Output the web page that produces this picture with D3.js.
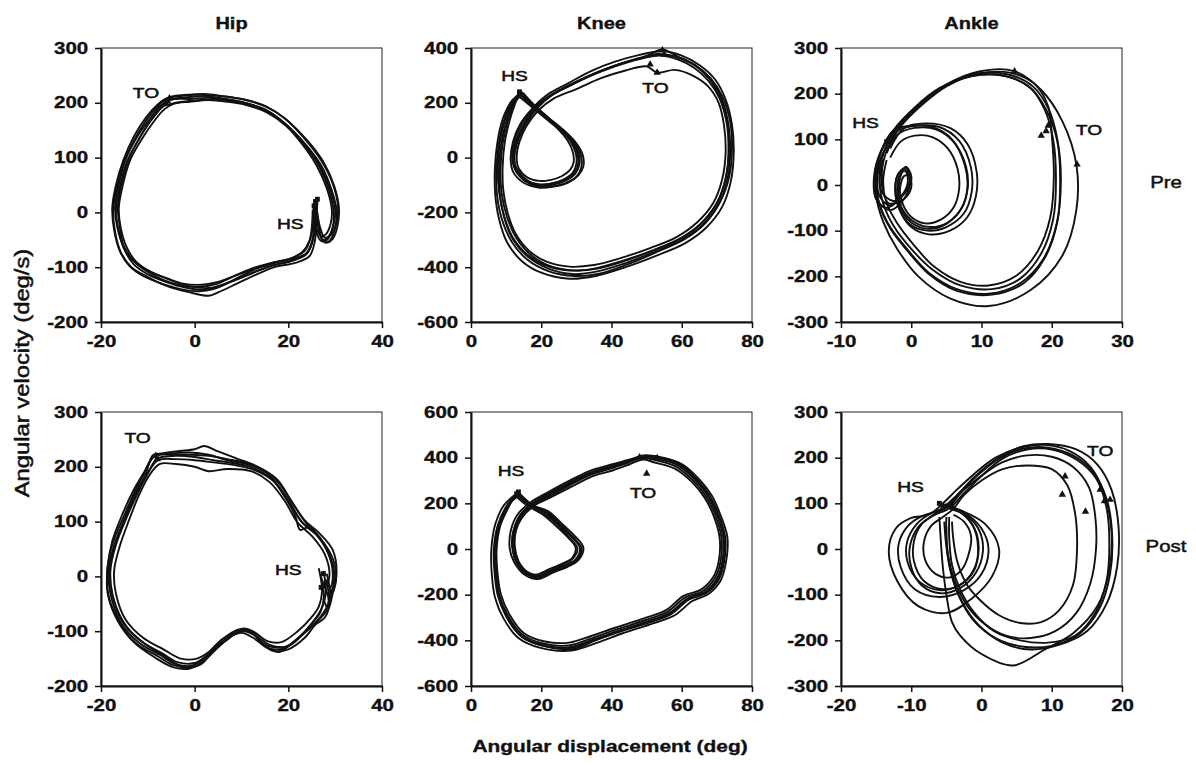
<!DOCTYPE html>
<html>
<head>
<meta charset="utf-8">
<script src="https://cdn.jsdelivr.net/npm/d3@7"></script>
<style>
  body { margin: 0; background: #fff; }
  svg { display: block; }
</style>
</head>
<body>
<div class="container"></div>
<script>
// angular displacement (deg) vs angular velocity (deg/s), one array per stride

// ---- Hip, pre
const hipPre1 = [[25.8,18],[25.6,-15],[25.2,-50],[24,-75],[21,-88],[17,-96],[13,-108],[9,-122],[5,-135],[2,-141],[-2,-137],[-6,-127],[-10,-113],[-13,-95],[-15,-68],[-16.3,-30],[-16.8,5],[-16,45],[-14.5,92],[-12,132],[-9.5,166],[-7,192],[-5.5,205],[-2,210],[2,212],[6,208],[10,202],[15,187],[19,163],[23,128],[26.5,88],[28.8,45],[30,5],[29.6,-25],[28.5,-45],[27.3,-50],[26.5,-30],[26,0]]
const hipPre2 = [[26.2,22],[26,-20],[25.6,-55],[24.5,-80],[21.5,-92],[17,-100],[13,-114],[9,-130],[5,-146],[3,-152],[-1,-146],[-6,-134],[-10,-118],[-13.5,-100],[-15.8,-72],[-17,-35],[-17.4,5],[-16.5,50],[-15,95],[-12.5,138],[-10,172],[-7.5,197],[-5.5,210],[-1,215],[3,214],[8,210],[12,203],[16,190],[20,166],[24,132],[27.5,92],[29.8,48],[30.8,8],[30.5,-25],[29.5,-48],[28.2,-55],[27,-45],[26.5,-25]]
const hipPre3 = [[25.4,10],[25.2,-20],[24.8,-45],[23.5,-70],[20.5,-84],[16.5,-92],[12.5,-104],[8.5,-116],[4.5,-128],[1.5,-132],[-2.5,-130],[-6,-120],[-9.5,-108],[-12.5,-90],[-14.5,-64],[-15.8,-28],[-16.2,8],[-15.4,48],[-13.8,95],[-11.2,135],[-8.8,165],[-6.5,188],[-4.5,198],[-1,202],[3,205],[7,202],[11,196],[15.5,182],[19.5,158],[23,124],[26,86],[28.2,44],[29.3,4],[29,-22],[28,-40],[27,-44],[26,-28],[25.6,-5]]
const hipPre4 = [[26,25],[25.9,-10],[25.4,-45],[24.2,-72],[21,-85],[18,-90],[14,-100],[10,-116],[6,-132],[3,-138],[-1,-135],[-5,-124],[-9,-110],[-12.5,-93],[-15,-66],[-16.5,-28],[-17,10],[-16.2,50],[-14.8,95],[-12.5,135],[-9.8,168],[-7.2,195],[-5,206],[-1,207],[3,209],[7,205],[11,199],[15.5,186],[19.5,161],[23.5,126],[27,86],[29.2,42],[30.3,3],[30,-28],[29,-50],[27.8,-55],[26.8,-40],[26.2,-10]]
const hipPre5 = [[25.6,15],[25.5,-25],[25,-55],[23.5,-78],[20,-90],[16,-98],[12,-112],[8,-126],[4,-140],[1,-144],[-3,-140],[-7,-130],[-11,-116],[-14,-97],[-16,-70],[-17.2,-32],[-17.6,8],[-16.8,50],[-15.2,96],[-13,138],[-10.5,172],[-8,196],[-6,208],[-2,213],[2,216],[6,212],[10.5,206],[15,194],[19.5,170],[23.5,134],[27,95],[29.5,52],[30.6,10],[30.2,-22],[29,-42],[27.8,-46],[26.8,-28],[26.2,0]]
const hipPre6 = [[25.2,5],[25,-28],[24.5,-52],[23,-72],[20,-86],[16,-93],[12,-103],[8,-118],[4.5,-131],[1,-136],[-3,-133],[-7,-122],[-10.5,-106],[-13.3,-86],[-15.2,-60],[-16,-25],[-16.4,10],[-15.6,52],[-14,98],[-11.8,136],[-9.2,170],[-6.8,193],[-4,200],[0,204],[4,206],[8,203],[12.5,195],[16.5,180],[20.5,152],[24,118],[26.8,80],[28.7,40],[29.7,0],[29.4,-30],[28.3,-50],[27,-52],[26,-36],[25.5,-10]]
const hipPreTO = [[-5.8,203],[-5.4,208],[-6.2,199]]
const hipPreHS = [[25.8,20],[26.2,24],[25.5,12]]

// ---- Knee, pre
const kneePre1 = [[14,232],[17.5,188],[22,145],[25.8,102],[28.6,60],[30.2,20],[30.5,-20],[29.6,-52],[27,-78],[23,-95],[19.5,-98],[16,-85],[13,-50],[12,-10],[12.8,50],[14.8,110],[17.5,165],[22,220],[28,262],[35,305],[42,340],[49,365],[55,375],[60,362],[64.5,330],[68.5,280],[71.5,210],[73.3,120],[73.8,20],[73,-80],[70.5,-170],[66,-245],[60,-300],[52,-345],[44,-385],[36,-415],[29,-425],[22,-405],[16.5,-365],[12,-300],[9.5,-220],[8.2,-130],[8,-40],[8.6,50],[10,130],[11.8,195],[14,230]]
const kneePre2 = [[14.5,238],[18,185],[22.5,140],[26.8,95],[30,52],[31.8,10],[32,-32],[30.5,-66],[27.5,-92],[23.5,-106],[19.5,-110],[15,-92],[12,-52],[11.3,-5],[12,60],[14,122],[17.5,180],[22,232],[27.5,270],[34,315],[41,350],[48,375],[54.5,388],[60,372],[65,338],[69.5,285],[72.5,212],[74.3,120],[74.8,20],[74,-85],[71.5,-180],[67,-255],[61,-312],[53,-357],[44,-400],[35.5,-432],[28,-442],[20,-420],[14.5,-378],[10.3,-310],[8,-225],[6.9,-135],[6.8,-40],[7.5,55],[9,140],[11.5,205],[14.5,238]]
const kneePre3 = [[13.5,225],[16.8,190],[21,145],[24.8,104],[27.5,62],[29,20],[29.2,-18],[28.2,-45],[25.8,-68],[22.5,-82],[19.5,-85],[16,-72],[13.6,-40],[13,0],[13.8,58],[15.8,115],[19,170],[23.5,215],[30,250],[37,290],[44,318],[50,333],[53,310],[58,320],[63,300],[67.5,260],[70.5,200],[72,120],[72.5,20],[71.5,-80],[69,-165],[64.5,-235],[58.5,-290],[51,-330],[43,-365],[35,-392],[28,-398],[21.5,-380],[16.5,-340],[12.8,-280],[10.5,-205],[9.2,-120],[9,-35],[9.6,55],[11,135],[12.5,195],[13.5,225]]
const kneePre4 = [[14.2,228],[17.5,188],[21.8,142],[25.8,98],[29,55],[30.7,12],[30.8,-28],[29.6,-60],[27,-84],[23.5,-98],[20,-102],[16,-86],[13,-46],[12.4,5],[13.5,65],[15.8,126],[19,182],[23,228],[28.5,266],[35.5,308],[42.5,342],[49.5,368],[54.5,395],[59,368],[64,335],[68,285],[71,215],[73,125],[73.5,20],[72.5,-75],[70,-165],[65.5,-240],[59.5,-296],[51.5,-340],[43.5,-378],[36,-405],[30,-412],[23,-398],[17.5,-360],[13,-295],[10.2,-215],[8.7,-128],[8.4,-40],[9,50],[10.4,130],[12.2,195],[14.2,228]]
const kneePre5 = [[13.8,235],[17,195],[21,148],[25,106],[28.2,62],[29.8,18],[30,-22],[29,-55],[26.3,-80],[22.2,-96],[18,-96],[14.5,-66],[12.4,-22],[12.4,40],[14.3,104],[17.3,164],[21.5,215],[27,255],[34,298],[41,333],[48,360],[53.5,372],[59,358],[63.5,328],[67.5,282],[70.8,215],[72.8,125],[73.3,25],[72.6,-72],[70.3,-160],[66,-235],[60,-292],[52,-338],[43.5,-375],[35,-405],[28,-412],[21,-392],[15.8,-352],[11.8,-290],[9.4,-212],[8,-125],[7.6,-35],[8.2,55],[9.6,135],[11.5,198],[13.8,235]]
const kneePre6 = [[14.8,236],[18,192],[22.2,144],[26.3,98],[29.6,52],[31.3,8],[31.4,-36],[30,-70],[26.8,-94],[22.3,-106],[17.5,-100],[13.8,-68],[11.9,-20],[12,40],[13.6,100],[16.5,160],[20.5,210],[26,252],[33,296],[40.5,334],[47.5,362],[53,378],[58.5,368],[63.8,338],[68.2,290],[71.6,222],[73.8,130],[74.3,30],[73.5,-70],[71,-160],[66.8,-238],[60.8,-298],[52.8,-345],[44.5,-390],[36.5,-424],[29.5,-432],[22,-414],[16,-372],[11.5,-305],[8.8,-225],[7.4,-135],[7.2,-40],[7.9,50],[9.3,132],[11.8,200],[14.8,236]]
const kneePreTO = [[54.5,392],[55,376],[53,310],[51,340]]
const kneePreHS = [[14,232],[13.8,240]]

// ---- Ankle, pre
const anklePre1 = [[-3.5,70],[-2,110],[0.5,125],[3.5,122],[6,95],[7.8,40],[8,-10],[7,-55],[5,-85],[2.5,-96],[0,-82],[-1.5,-50],[-2,-10],[-1.5,25],[-0.8,30],[-0.5,5],[-1.2,-20],[-3,-45],[-4.5,-25],[-4.8,20],[-4,70],[-2,125],[1,172],[4.5,215],[9,240],[13.5,238],[17,212],[19,165],[20.2,100],[20.6,15],[20.2,-75],[18.5,-150],[15.5,-205],[11.5,-228],[7,-220],[3,-185],[0,-140],[-2.5,-90],[-4,-40],[-4.5,10],[-4,55]]
const anklePre2 = [[-3,80],[-1,125],[2,135],[5.5,125],[8,90],[9.3,30],[9.2,-25],[8,-70],[5.5,-100],[2.5,-108],[0,-92],[-1.5,-60],[-2.2,-20],[-2,20],[-1,35],[-0.2,10],[-0.8,-25],[-3,-55],[-5,-30],[-5.2,15],[-4.5,65],[-2.5,120],[0.5,170],[4,212],[8.5,238],[13,240],[16.8,215],[19.2,165],[20.8,95],[21.2,10],[20.8,-80],[19,-160],[16,-215],[11.5,-240],[6.5,-232],[2.5,-195],[-0.5,-145],[-3,-95],[-4.5,-45],[-5,5],[-4.5,50]]
const anklePre3 = [[-3,60],[-1.5,95],[0.5,108],[3,105],[5.2,80],[6.6,35],[6.8,-10],[6,-50],[4.2,-76],[2,-84],[0,-70],[-1.2,-42],[-1.6,-8],[-1,20],[-0.3,20],[0,-5],[-1,-30],[-3.2,-40],[-4,-15],[-4.2,25],[-3.5,75],[-1.5,128],[1.5,175],[5,216],[9.5,243],[14,246],[17.5,222],[19.5,172],[20,110],[20.3,20],[19.8,-70],[18,-145],[15,-198],[11,-220],[7,-212],[3.2,-178],[0.4,-132],[-2,-84],[-3.6,-35],[-4,10],[-3.5,55]]
const anklePre4 = [[-3.8,75],[-2,118],[1,130],[4,127],[6.8,97],[8.5,38],[8.6,-15],[7.5,-62],[5,-92],[2.3,-100],[-0.2,-86],[-1.7,-52],[-2.3,-12],[-1.8,25],[-0.8,38],[-0.2,15],[-1,-18],[-3.5,-50],[-5,-30],[-5.3,18],[-4.3,75],[-2,130],[1.5,180],[5,220],[9.5,248],[14.5,250],[18.5,208],[21.5,140],[23.5,45],[23.5,-55],[21.5,-155],[17,-230],[11,-265],[5.5,-248],[1,-200],[-2,-140],[-4,-80],[-5,-25],[-5,30],[-4,70]]
const anklePre5 = [[-4,85],[-2.5,120],[0,130],[3,127],[5.8,100],[7.6,45],[8,-5],[7.2,-50],[5.2,-82],[2.8,-92],[0.3,-80],[-1.3,-52],[-1.8,-15],[-1.5,20],[-0.8,40],[0,20],[-0.5,-10],[-2.5,-35],[-4.2,-15],[-4.5,25],[-3.8,75],[-1.8,128],[1.3,176],[4.8,218],[9.2,244],[13.8,242],[17.3,216],[19.5,168],[20.8,100],[21.3,10],[20.7,-85],[18.8,-162],[15.5,-215],[11,-238],[6.5,-228],[2.5,-192],[-0.5,-142],[-3,-92],[-4.5,-42],[-5,8],[-4.2,60]]
const anklePreTO = [[19.5,130],[19.2,118],[18.5,108],[14.7,249],[23.6,45]]
const anklePreHS = [[-3.5,95],[-2.8,105]]

// ---- Hip, post
const hipPost1 = [[27.5,10],[28,-30],[27,-60],[25.5,-80],[23,-105],[19.5,-128],[16,-125],[13,-108],[10.5,-100],[8,-108],[5.5,-122],[2.5,-145],[0,-158],[-3.5,-157],[-7,-140],[-11.5,-118],[-15.5,-82],[-17.5,-35],[-18,10],[-16.8,58],[-14.5,108],[-12,155],[-10,188],[-8,215],[-4,220],[0,218],[4,212],[8,207],[12.5,198],[16.5,178],[19.8,142],[22.8,100],[26,76],[28.5,42],[29.5,5],[29,-20],[28,-10]]
const hipPost2 = [[27,-5],[28.6,-45],[27.2,-70],[24.5,-95],[21,-120],[18,-138],[15,-128],[12.5,-105],[10,-98],[7.5,-112],[4,-135],[1.5,-152],[-1,-165],[-4.5,-162],[-8,-145],[-12.5,-122],[-16,-85],[-18.3,-38],[-18.7,8],[-17.5,60],[-15,112],[-12.5,160],[-10.5,192],[-8.5,220],[-4,228],[0,232],[2,238],[5,228],[9,215],[13.5,200],[17.5,178],[20.5,140],[23.5,102],[26.5,80],[29.5,48],[30.3,5],[29.5,-30],[28.5,-60],[27.5,-40]]
const hipPost3 = [[26.5,15],[27.2,-25],[26.5,-55],[24.8,-76],[22,-100],[18.5,-120],[15.5,-118],[12.8,-102],[10.5,-95],[8.2,-104],[5.8,-115],[3,-138],[0.5,-150],[-3,-150],[-6.5,-134],[-11,-112],[-14.8,-78],[-16.8,-32],[-17.2,10],[-16,55],[-14,103],[-11.8,150],[-9.8,183],[-7.5,205],[-4,205],[0,200],[3,192],[7,196],[12,192],[16,172],[19.2,138],[22,98],[25.2,72],[27.8,40],[28.8,3],[28.3,-15]]
const hipPost4 = [[28,-5],[28.8,-48],[27.8,-75],[25.8,-88],[23.5,-112],[20,-133],[16.5,-135],[14,-118],[11.5,-98],[9,-102],[6.5,-118],[3.5,-142],[1,-162],[-2.5,-165],[-6,-148],[-10.5,-124],[-14.5,-92],[-17.2,-45],[-18.2,5],[-17.3,52],[-15.2,100],[-12.8,150],[-10.5,185],[-8.8,222],[-5,222],[-1,222],[3,220],[7,214],[11.5,205],[15.5,188],[18.5,155],[21.5,110],[22.5,85],[24.5,90],[27.5,60],[29.5,20],[29.8,-10],[29,-35]]
const hipPost5 = [[27,0],[27.6,-38],[26.8,-66],[25,-86],[22.5,-110],[19,-132],[15.5,-130],[12.5,-112],[10,-103],[7.5,-110],[5,-126],[2,-150],[-0.5,-163],[-4,-160],[-7.5,-143],[-12,-120],[-15.8,-84],[-17.8,-38],[-18.4,8],[-17.2,56],[-14.8,106],[-12.3,153],[-10.2,186],[-7.8,212],[-4,214],[0,212],[4,208],[8.5,203],[12.8,194],[16.8,174],[20,138],[23,98],[26.4,72],[28.8,38],[29.8,0],[29.3,-25],[28.4,-30]]
const hipPost6 = [[28.2,5],[29,-35],[28.2,-62],[26.2,-82],[23.8,-100],[20.5,-125],[17.5,-130],[14.5,-122],[12,-100],[9.5,-97],[7,-108],[4.5,-126],[1.8,-155],[-1,-168],[-4.5,-166],[-8.5,-148],[-13,-120],[-16.5,-80],[-18.6,-30],[-18.6,15],[-17.6,64],[-15.4,114],[-13,158],[-10.8,190],[-8.8,218],[-5,224],[-1,226],[3,222],[7,212],[11,205],[14.5,195],[18,170],[21,132],[24,95],[27,68],[29.6,30],[30.2,-5],[29.6,-28]]
const hipPostTO = [[-8.3,220],[-8,214]]
const hipPostHS = [[27.5,5],[28,-12],[27,-20]]

// ---- Knee, post
const kneePost1 = [[13,242],[16.5,195],[21.5,160],[25,110],[28.5,55],[31,5],[29.8,-45],[27,-70],[23,-95],[19,-125],[16,-110],[13,-55],[11.8,10],[12.2,85],[14,150],[17.5,200],[22,238],[28,285],[34,330],[40,358],[45,385],[48,402],[53,395],[59,365],[64,300],[67.5,230],[70,150],[71.8,50],[71.5,-60],[70,-130],[66.5,-188],[61.5,-218],[56.5,-280],[50,-318],[42,-358],[35,-395],[28,-430],[20,-420],[14,-378],[10,-295],[7.6,-202],[6.7,-100],[6.5,0],[7.6,103],[10,185],[13,242]]
const kneePost2 = [[13.5,248],[17,195],[22,165],[25.8,112],[29.5,58],[32,5],[30.5,-50],[27.5,-78],[23.5,-102],[19,-132],[15.5,-115],[12.3,-58],[11,5],[11.4,85],[13.3,152],[17,205],[21.5,245],[27.5,295],[33.5,340],[40,370],[45.5,393],[49,410],[54,402],[60,372],[65,305],[68.5,235],[71,150],[73,50],[72.5,-65],[71,-140],[67.5,-198],[63,-228],[58,-290],[51,-330],[43,-370],[36,-410],[28.5,-445],[19.5,-432],[13.5,-390],[9.3,-305],[6.8,-210],[5.9,-105],[5.8,0],[6.9,108],[9.4,192],[13.5,248]]
const kneePost3 = [[12.5,235],[15.8,192],[20.5,150],[24,104],[27.5,52],[29.8,5],[28.8,-40],[26.3,-62],[22.3,-88],[18.5,-112],[16,-100],[13.5,-52],[12.5,8],[12.8,80],[14.6,140],[18,190],[22.5,225],[28.5,272],[34.5,318],[40.5,345],[45,370],[49,392],[52,380],[58,352],[63,292],[66.5,225],[69,148],[70.8,48],[70.5,-55],[69,-122],[65.5,-178],[60.5,-205],[55.5,-268],[49,-305],[41,-345],[34,-382],[28,-410],[21,-405],[15,-368],[11,-288],[8.5,-198],[7.5,-98],[7.3,0],[8.3,100],[10.6,180],[12.5,235]]
const kneePost4 = [[14,240],[17.2,196],[22,158],[25.5,108],[29,54],[31.3,3],[30.2,-48],[27.4,-74],[23.3,-98],[19.3,-120],[16.3,-105],[13.3,-56],[12.1,6],[12.4,82],[14.3,146],[18,198],[22.5,236],[28.5,290],[34.5,335],[40.5,362],[45.5,390],[50.5,408],[53.5,400],[59.5,370],[64.5,302],[68,232],[70.5,148],[72.4,48],[72,-62],[70.5,-135],[67,-193],[62,-222],[57,-285],[50.5,-323],[42.5,-362],[35.5,-400],[29,-438],[21,-425],[14.5,-385],[10.5,-300],[8,-205],[7.1,-102],[7,0],[8,105],[10.4,188],[14,240]]
const kneePost5 = [[13.2,244],[16.5,200],[21.3,158],[25,106],[28.7,52],[31.5,3],[30.2,-48],[27.5,-75],[23,-98],[19,-126],[16,-112],[13,-60],[11.8,0],[12,75],[13.8,140],[17,195],[21.5,238],[27.5,288],[33.5,332],[39.5,362],[45,388],[49.5,406],[54,398],[59.5,368],[64.5,300],[68,228],[70.5,148],[72.2,48],[71.8,-62],[70.3,-132],[66.8,-190],[61.8,-220],[56.8,-282],[50.3,-320],[42.3,-360],[35.3,-398],[28.5,-433],[20.5,-424],[14.3,-382],[10.2,-298],[7.8,-203],[6.9,-100],[6.7,0],[7.8,104],[10.2,186],[13.2,244]]
const kneePost6 = [[12.8,238],[16,198],[20.8,155],[24.5,108],[28,50],[30.3,2],[29,-42],[26.5,-66],[22.5,-92],[18.6,-118],[15.6,-104],[12.8,-54],[12,-4],[12.4,70],[14.4,136],[17.8,190],[22.2,228],[28.2,280],[34.2,326],[40.2,354],[45,380],[48.5,398],[52.5,390],[58.5,360],[63.5,296],[67,228],[69.5,150],[71.3,50],[71,-58],[69.5,-126],[66,-184],[61,-212],[56,-274],[49.5,-312],[41.5,-352],[34.5,-390],[28,-422],[20.5,-414],[14.5,-373],[10.5,-292],[8,-200],[7.1,-99],[6.9,0],[8,102],[10.3,183],[12.8,238]]
const kneePostTO = [[48,402],[53,398],[50,330]]
const kneePostHS = [[13,242],[13.5,250]]

// ---- Ankle, post
const anklePost1 = [[-5,92],[-2.8,78],[-1,45],[-0.4,0],[-1.2,-48],[-3.2,-80],[-6,-90],[-8.8,-72],[-10.5,-30],[-10.6,15],[-9.2,55],[-7,80],[-5,92],[-3,125],[-0.5,162],[2.5,198],[6,220],[9.5,222],[13,205],[15.8,170],[17.8,110],[18.6,30],[18.3,-55],[16.8,-130],[14,-185],[10,-212],[6,-214],[2,-195],[-1.2,-155],[-3.3,-100],[-4.5,-40],[-5,20],[-5,70]]
const anklePost2 = [[-6,100],[-3,85],[0.5,55],[2.5,0],[1.5,-60],[-1.5,-110],[-5,-140],[-9,-125],[-12,-70],[-13.2,-5],[-12.2,45],[-10,68],[-7.5,75],[-5.5,100],[-3.5,130],[-1,165],[2,200],[5.5,222],[9,228],[12.5,215],[15.5,180],[17.5,120],[18.5,40],[18.2,-45],[16.5,-125],[13,-185],[9,-220],[4.5,-255],[0,-230],[-3,-190],[-4.2,-160],[-5,-100],[-5.5,-40],[-5.8,20],[-6,70]]
const anklePost3 = [[-4,75],[-2.5,60],[-1.5,30],[-1.8,-10],[-2.8,-45],[-4.5,-62],[-6.5,-55],[-8,-25],[-8.2,15],[-7.2,50],[-5.5,70],[-4,88],[-2.5,118],[0,150],[3,175],[6.5,183],[10,175],[12.2,140],[13.3,80],[13.6,0],[13,-80],[11,-135],[8.5,-160],[5.5,-162],[2.5,-145],[0,-115],[-2,-80],[-3.4,-30],[-4,20],[-4.2,60]]
const anklePost4 = [[-5.5,95],[-2.5,80],[0,45],[1,0],[0,-55],[-2.5,-90],[-6,-105],[-9.5,-88],[-11.5,-40],[-11.8,10],[-10.5,50],[-8.5,72],[-6,85],[-3.5,118],[-1,158],[2.5,200],[6,225],[9.5,230],[13.5,218],[16.5,185],[18.5,130],[19.5,50],[19.3,-40],[17.8,-120],[15,-180],[11,-210],[7,-220],[3,-205],[-0.5,-165],[-2.8,-115],[-4.3,-55],[-5,5],[-5.3,60]]
const anklePost5 = [[-4.5,88],[-2,72],[-0.3,40],[0.2,-5],[-0.8,-52],[-3,-85],[-5.8,-97],[-8.5,-80],[-10,-40],[-10.2,5],[-9,48],[-7,72],[-4.5,90],[-2.5,122],[0,160],[3,198],[6.5,218],[10,218],[13.5,196],[16.3,155],[17.8,90],[18.2,10],[17.8,-70],[16.2,-140],[13.3,-190],[9.5,-205],[5.5,-200],[1.8,-180],[-1,-140],[-3,-90],[-4.2,-35],[-4.6,25],[-4.6,70]]
const anklePost6 = [[-5.2,98],[-3,82],[-1.2,50],[-0.5,5],[-1,-45],[-3,-78],[-5.5,-88],[-8.2,-70],[-9.6,-28],[-9.6,18],[-8.5,55],[-6.5,78],[-4.5,95],[-2.8,125],[-0.2,158],[3,190],[6.5,205],[10,202],[13,180],[15.3,135],[16.2,70],[16.3,0],[15.5,-75],[13.5,-140],[10.5,-180],[7,-195],[3.5,-190],[0.5,-165],[-2,-125],[-3.8,-70],[-4.8,-10],[-5,50]]
const anklePostTO = [[11.9,159],[11.5,119],[16.9,130],[14.8,82],[17.5,105],[18.3,108]]
const anklePostHS = [[-6,100],[-4.2,95],[-5.5,92]]

// ---- ticks
const hipXTicks = [-20, 0, 20, 40]
const hipYTicks = [-200, -100, 0, 100, 200, 300]
const kneeXTicks = [0, 20, 40, 60, 80]
const kneePreYTicks = [-600, -400, -200, 0, 200, 400]
const kneePostYTicks = [-600, -400, -200, 0, 200, 400, 600]
const anklePreXTicks = [-10, 0, 10, 20, 30]
const anklePostXTicks = [-20, -10, 0, 10, 20]
const ankleYTicks = [-300, -200, -100, 0, 100, 200, 300]

const jointNames = ['Hip', 'Knee', 'Ankle']
const phaseNames = ['Pre', 'Post']

const panels = [
  { col: 0, row: 0, xt: hipXTicks, yt: hipYTicks, to: hipPreTO, hs: hipPreHS,
    cycles: [hipPre1, hipPre2, hipPre3, hipPre4, hipPre5, hipPre6],
    notes: [['TO', -10.4, 220], ['HS', 20.4, -20]] },
  { col: 1, row: 0, xt: kneeXTicks, yt: kneePreYTicks, to: kneePreTO, hs: kneePreHS,
    cycles: [kneePre1, kneePre2, kneePre3, kneePre4, kneePre5, kneePre6],
    notes: [['HS', 12.4, 302], ['TO', 52.5, 257]] },
  { col: 2, row: 0, xt: anklePreXTicks, yt: ankleYTicks, to: anklePreTO, hs: anklePreHS,
    cycles: [anklePre1, anklePre2, anklePre3, anklePre4, anklePre5],
    notes: [['HS', -6.5, 137], ['TO', 25.3, 123]] },
  { col: 0, row: 1, xt: hipXTicks, yt: hipYTicks, to: hipPostTO, hs: hipPostHS,
    cycles: [hipPost1, hipPost2, hipPost3, hipPost4, hipPost5, hipPost6],
    notes: [['TO', -12.2, 254], ['HS', 20, 13]] },
  { col: 1, row: 1, xt: kneeXTicks, yt: kneePostYTicks, to: kneePostTO, hs: kneePostHS,
    cycles: [kneePost1, kneePost2, kneePost3, kneePost4, kneePost5, kneePost6],
    notes: [['HS', 11.4, 344], ['TO', 49, 249]] },
  { col: 2, row: 1, xt: anklePostXTicks, yt: ankleYTicks, to: anklePostTO, hs: anklePostHS,
    cycles: [anklePost1, anklePost2, anklePost3, anklePost4, anklePost5, anklePost6],
    notes: [['HS', -10.1, 138], ['TO', 16.9, 217]] }
]

const W = 1196, H = 765
const colX = [101, 471, 841]
const rowY = [48, 412]
const pw = 281, ph = 274
const FONT = '"Liberation Sans", Arial, Helvetica, sans-serif'
const SX = 1.28 // the scanned lettering is wide
const INK = '#111'

const svg = d3.select('.container').append('svg')
  .attr('width', W).attr('height', H)
  .style('font-family', FONT)

function label(g, txt, x, y, opts = {}) {
  return g.append('text')
    .attr('transform', `translate(${x},${y}) rotate(${opts.rot || 0}) scale(${opts.sx || SX},1)`)
    .attr('text-anchor', opts.anchor || 'middle')
    .attr('font-size', opts.size || 15)
    .attr('font-weight', opts.weight || 'bold')
    .attr('fill', INK).attr('stroke', INK).attr('stroke-width', opts.ink || 0.35)
    .text(txt)
}

const line = d3.line().curve(d3.curveCatmullRom.alpha(0.5))

panels.forEach(p => {
  const x0 = colX[p.col], y0 = rowY[p.row]
  const x = d3.scaleLinear().domain(d3.extent(p.xt)).range([0, pw])
  const y = d3.scaleLinear().domain(d3.extent(p.yt)).range([ph, 0])
  const g = svg.append('g').attr('transform', `translate(${x0},${y0})`)

  // frame
  g.append('rect').attr('width', pw).attr('height', ph)
    .attr('fill', 'none').attr('stroke', '#222').attr('stroke-width', 1)

  // strides
  const lg = g.append('g')
  p.cycles.forEach(c => {
    lg.append('path')
      .attr('d', line(c.map(d => [x(d[0]), y(d[1])])))
      .attr('fill', 'none').attr('stroke', INK)
      .attr('stroke-width', 1.9).attr('stroke-linejoin', 'round')
  })

  // event marks
  g.selectAll('.to').data(p.to).join('path')
    .attr('transform', d => `translate(${x(d[0])},${y(d[1])})`)
    .attr('d', d3.symbol().size(24).type(d3.symbolTriangle)())
    .attr('fill', INK)
  g.selectAll('.hs').data(p.hs).join('path')
    .attr('transform', d => `translate(${x(d[0])},${y(d[1])})`)
    .attr('d', d3.symbol().size(24).type(d3.symbolSquare)())
    .attr('fill', INK)

  p.notes.forEach(n => label(g, n[0], x(n[1]), y(n[2]) + 6, { size: 15, weight: 'normal', ink: 0.5 }))

  // axes
  const ax = g.append('g').attr('transform', `translate(0,${ph})`)
    .call(d3.axisBottom(x).tickValues(p.xt).tickFormat(d => String(d)).tickSize(6).tickSizeOuter(0).tickPadding(5))
  const ay = g.append('g')
    .call(d3.axisLeft(y).tickValues(p.yt).tickFormat(d => String(d)).tickSize(6).tickSizeOuter(0).tickPadding(4))
  ;[ax, ay].forEach(a => {
    a.select('.domain').attr('stroke', INK).attr('stroke-width', 2)
    a.selectAll('.tick line').attr('stroke', INK).attr('stroke-width', 1.5)
    a.selectAll('.tick text')
      .attr('font-family', FONT).attr('font-size', 16).attr('font-weight', 'bold')
      .attr('fill', INK).attr('stroke', INK).attr('stroke-width', 0.35)
      .attr('transform', `scale(${SX},1)`)
  })
  ax.selectAll('.tick text').attr('dy', '0.9em')
})

// column and row headings
jointNames.forEach((n, i) => label(svg, n, colX[i] + pw / 2 - 10, 29, { size: 16, sx: 1.25 }))
phaseNames.forEach((n, i) => label(svg, n, 1166, rowY[i] + 140, { size: 17, weight: 'normal', sx: 1.2, ink: 0.5 }))

label(svg, 'Angular velocity (deg/s)', 29, 373, { rot: -90, size: 20, weight: 'normal', sx: 1.19, ink: 0.5 })
label(svg, 'Angular displacement (deg)', 610, 752, { size: 17, weight: 'bold', sx: 1.23 })
</script>
</body>
</html>
